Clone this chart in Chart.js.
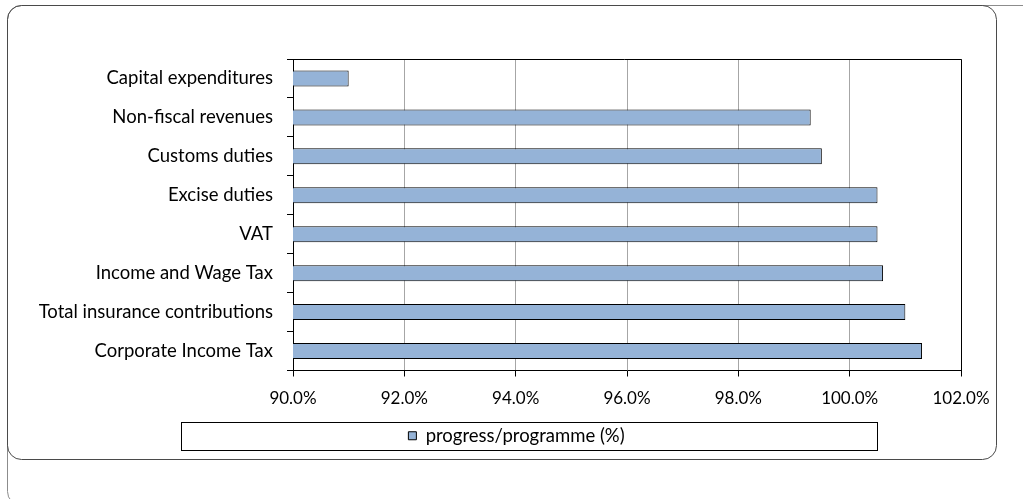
<!DOCTYPE html>
<html><head><meta charset="utf-8">
<script src="https://cdn.jsdelivr.net/npm/chart.js@4.4.0/dist/chart.umd.min.js"></script>
<style>html,body{margin:0;padding:0;background:#fff;overflow:hidden}
#wrap{position:relative;width:1023px;height:499px}</style></head>
<body><div id="wrap"><canvas id="c"></canvas></div>
<script>
const categories = ["Capital expenditures","Non-fiscal revenues","Customs duties","Excise duties","VAT","Income and Wage Tax","Total insurance contributions","Corporate Income Tax"];
const progressValues = [91.0, 99.3, 99.5, 100.5, 100.5, 100.6, 101.0, 101.3];
const seriesName = "progress/programme (%)";
const xTickValues = [90, 92, 94, 96, 98, 100, 102];

const FAMILY = "Lato, 'Open Sans', sans-serif";
const LABEL_FONT = {family: FAMILY, size: 18.5};
const TICK_FONT = {family: FAMILY, size: 17};
const LEGEND_FONT = {family: FAMILY, size: 18.5};
const PAD = {left: 10, right: 0, top: 59, bottom: 44};

const framePlugin = {
  id: 'frames',
  beforeDraw(chart) {
    const ctx = chart.ctx;
    ctx.save();
    ctx.fillStyle = '#fff';
    ctx.fillRect(0, 0, chart.width, chart.height);
    ctx.lineWidth = 1;
    ctx.strokeStyle = '#8c8c8c';
    ctx.beginPath();
    ctx.roundRect(7.5, 5.5, 1060, 500, 14);
    ctx.stroke();
    ctx.strokeStyle = '#4a4a4a';
    ctx.beginPath();
    ctx.roundRect(7.5, 5.5, 989, 454, 14);
    ctx.stroke();
    ctx.restore();
  },
  afterDraw(chart) {
    const ctx = chart.ctx, a = chart.chartArea;
    ctx.save();
    ctx.strokeStyle = '#000';
    ctx.lineWidth = 1;
    ctx.beginPath();
    ctx.moveTo(Math.round(a.left) - 6, Math.round(a.top) + 0.5);
    ctx.lineTo(Math.round(a.right) + 0.5, Math.round(a.top) + 0.5);
    ctx.lineTo(Math.round(a.right) + 0.5, Math.round(a.bottom) + 0.5);
    ctx.stroke();
    // legend border box
    ctx.strokeRect(181.5, 422.5, 696, 28);
    ctx.restore();
  }
};

new Chart(document.getElementById('c'), {
  type: 'bar',
  data: {
    labels: categories,
    datasets: [{
      label: seriesName,
      data: progressValues,
      backgroundColor: '#95b3d7',
      borderColor: '#000',
      borderWidth: 1,
      borderSkipped: false,
      categoryPercentage: 1.0,
      barPercentage: 0.41
    }]
  },
  options: {
    indexAxis: 'y',
    responsive: true,
    maintainAspectRatio: false,
    animation: false,
    devicePixelRatio: 1,
    layout: {padding: PAD},
    plugins: {
      tooltip: {enabled: false},
      legend: {
        position: 'bottom',
        labels: {
          font: LEGEND_FONT, color: '#000', boxWidth: 8, boxHeight: 8, padding: 10
        }
      }
    },
    scales: {
      x: {
        min: 90, max: 102,
        afterBuildTicks(scale) { scale.ticks = xTickValues.map(v => ({value: v})); },
        afterFit(scale) { scale.height = 46; },
        ticks: {
          font: TICK_FONT, color: '#000', padding: 12, maxRotation: 0,
          callback: v => Number(v).toFixed(1) + '%'
        },
        grid: {color: '#a6a6a6', lineWidth: 1, tickColor: '#000', tickLength: 6},
        border: {color: '#000', width: 1}
      },
      y: {
        afterFit(scale) { scale.width = 293 - PAD.left; },
        ticks: {font: LABEL_FONT, color: '#000', padding: 14, autoSkip: false},
        grid: {drawOnChartArea: false, offset: true, tickColor: '#000', tickLength: 6, color: '#000'},
        border: {color: '#000', width: 1}
      },
      yRightSpace: {
        type: 'linear',
        position: 'right',
        display: true,
        afterFit(scale) { scale.width = 62; },
        ticks: {display: false},
        grid: {display: false},
        border: {display: false}
      }
    }
  },
  plugins: [framePlugin]
});
</script></body></html>
